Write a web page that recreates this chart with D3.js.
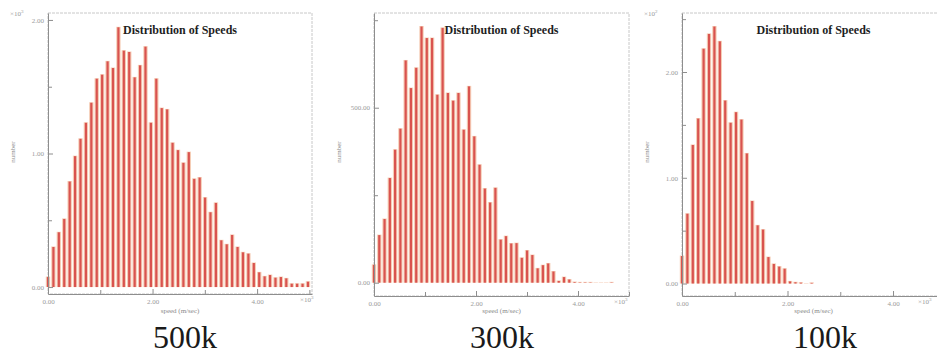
<!DOCTYPE html>
<html>
<head>
<meta charset="utf-8">
<script src="https://cdn.jsdelivr.net/npm/d3@7"></script>
<style>
  html, body { margin: 0; padding: 0; background: #fff; }
  svg { display: block; }
</style>
</head>
<body>
<svg id="chart" width="937" height="356"></svg>
<script>
// ---------------- DATA ----------------
const panelLabels = ["500k", "300k", "100k"];
const chartTitle = "Distribution of Speeds";
const xAxisTitle = "speed (m/sec)";
const yAxisTitle = "number";

// counts per speed bin (panel 1 in x10^3, panel 2 raw, panel 3 in x10^2)
const counts500k = [0.075, 0.30, 0.41, 0.51, 0.79, 0.98, 1.11, 1.23, 1.38, 1.56,
  1.59, 1.69, 1.64, 1.945, 1.77, 1.76, 1.57, 1.66, 1.80, 1.23,
  1.56, 1.34, 1.33, 1.08, 1.025, 0.93, 1.01, 0.81, 0.82, 0.67,
  0.56, 0.63, 0.35, 0.32, 0.39, 0.30, 0.26, 0.25, 0.18, 0.11,
  0.08, 0.09, 0.07, 0.075, 0.065, 0.025, 0.025, 0.025, 0.04];
const counts300k = [51, 136, 182, 299, 380, 440, 635, 556, 614, 732,
  699, 699, 537, 728, 542, 520, 542, 437, 561, 418,
  337, 269, 229, 271, 123, 133, 112, 113, 71, 92,
  79, 41, 50, 55, 32, 5, 16, 9, 2, 1,
  1, 1, 0, 0, 0, 1];
const counts100k = [0.26, 0.66, 1.31, 1.56, 2.22, 2.36, 2.43, 2.29, 1.73, 1.52,
  1.62, 1.55, 1.23, 0.78, 0.55, 0.51, 0.25, 0.185, 0.16, 0.14,
  0.02, 0.012, 0.008, 0, 0.006];
const binWidths = [0.1036, 0.1035, 0.1024];   // x10^3 m/sec

const xMajorTicks = [0, 2, 4];
const xMinorTicks = [1, 3, 5];
const yMajorTicks = [[0, 1, 2], [0, 500], [0, 1, 2]];
const yMinorTicks = [[0.5, 1.5], [250, 750], [0.5, 1.5, 2.5]];
const yMultipliers = ["3", null, "2"];
const xMultiplier = "3";

// ---------------- LAYOUT ----------------
const panels = [
  { counts: counts500k, left: 48,  right: 312, top: 13, bottom: 294, xMax: 5.05, yMin: -0.052, yMax: 2.052, multX: 300 },
  { counts: counts300k, left: 374, right: 629, top: 13, bottom: 296, xMax: 5.0,  yMin: -38,    yMax: 770.6, multX: 614 },
  { counts: counts100k, left: 682, right: 950, top: 13, bottom: 296, xMax: 5.08, yMin: -0.118, yMax: 2.558, multX: 918 }
];

const svg = d3.select("#chart");
const serif = "'Liberation Serif', 'Times New Roman', serif";
const tickColor = "#9a9a9a";

panels.forEach((p, k) => {
  const g = svg.append("g");
  const x = d3.scaleLinear().domain([0, p.xMax]).range([p.left, p.right]);
  const y = d3.scaleLinear().domain([p.yMin, p.yMax]).range([p.bottom, p.top]);
  const bw = binWidths[k];
  const cx = (p.left + p.right) / 2;
  const titleCx = k === 2 ? 813.5 : cx;

  // frame (top / right)
  g.append("rect")
    .attr("x", p.left).attr("y", p.top)
    .attr("width", p.right - p.left).attr("height", p.bottom - p.top)
    .attr("fill", "none").attr("stroke", "#c8c8c8").attr("stroke-width", 1)
    .attr("stroke-dasharray", "3,1");

  // bars: pale halo + red core
  const bars = p.counts.map((v, i) => ({ v: v, s: i * bw }));
  g.selectAll("rect.halo").data(bars).join("rect")
    .attr("class", "halo")
    .attr("x", d => x(d.s) - 2.2)
    .attr("width", 4.4)
    .attr("y", d => y(d.v) - 0.5)
    .attr("height", d => Math.max(0, y(0) - y(d.v) + 0.5))
    .attr("fill", "#f5cdb6");
  g.selectAll("rect.core").data(bars).join("rect")
    .attr("class", "core")
    .attr("x", d => x(d.s) - 1.1)
    .attr("width", 2.2)
    .attr("y", d => y(d.v))
    .attr("height", d => Math.max(0, y(0) - y(d.v)))
    .attr("fill", "#d9534f");

  // y axis
  const yAxis = d3.axisLeft(y).tickValues(yMajorTicks[k]).tickSize(-5).tickSizeOuter(0)
    .tickPadding(4).tickFormat(d3.format(".2f"));
  const ya = g.append("g").attr("transform", `translate(${p.left},0)`).call(yAxis);
  const yMinorAxis = d3.axisLeft(y).tickValues(yMinorTicks[k]).tickSize(-4).tickSizeOuter(0).tickFormat("");
  const ym = g.append("g").attr("transform", `translate(${p.left},0)`).call(yMinorAxis);
  ym.select(".domain").remove();

  // x axis
  const xAxis = d3.axisBottom(x).tickValues(xMajorTicks).tickSize(-5).tickSizeOuter(0)
    .tickPadding(5).tickFormat(d3.format(".2f"));
  const xa = g.append("g").attr("transform", `translate(0,${p.bottom})`).call(xAxis);
  const xMinorAxis = d3.axisBottom(x).tickValues(xMinorTicks).tickSize(-4).tickSizeOuter(0).tickFormat("");
  const xm = g.append("g").attr("transform", `translate(0,${p.bottom})`).call(xMinorAxis);
  xm.select(".domain").remove();

  [ya, ym, xa, xm].forEach(a => {
    a.selectAll("path.domain").attr("stroke", "#8e8e8e").attr("stroke-width", 1);
    a.selectAll(".tick line").attr("stroke", "#8e8e8e");
    a.selectAll(".tick text").attr("fill", tickColor)
      .style("font-family", serif).style("font-size", "7px");
  });

  // y multiplier (top-left)
  if (yMultipliers[k]) {
    const t = g.append("text").attr("x", p.left - 38).attr("y", 16)
      .attr("fill", tickColor).style("font-family", serif).style("font-size", "7px");
    t.append("tspan").text("×10");
    t.append("tspan").attr("dy", -3).style("font-size", "5px").text(yMultipliers[k]);
  }
  // x multiplier (bottom-right)
  {
    const t = g.append("text").attr("x", p.multX).attr("y", p.bottom + 8)
      .attr("fill", tickColor).style("font-family", serif).style("font-size", "7px");
    t.append("tspan").text("×10");
    t.append("tspan").attr("dy", -3).style("font-size", "5px").text(xMultiplier);
  }

  // title
  g.append("text").attr("x", titleCx).attr("y", 34).attr("text-anchor", "middle")
    .attr("fill", "#1e1e1e").style("font-family", serif).style("font-weight", "bold")
    .style("font-size", "12px").text(chartTitle);

  // axis titles
  g.append("text").attr("x", titleCx).attr("y", 313).attr("text-anchor", "middle")
    .attr("fill", "#8a8a8a").style("font-family", serif).style("font-size", "7px")
    .text(xAxisTitle);
  g.append("text")
    .attr("transform", `translate(${p.left - 33},${152}) rotate(-90)`)
    .attr("text-anchor", "middle")
    .attr("fill", "#8a8a8a").style("font-family", serif).style("font-size", "7px")
    .text(yAxisTitle);

  // panel label
  const labelCx = [185, 502, 825][k];
  g.append("text").attr("x", labelCx).attr("y", 348).attr("text-anchor", "middle")
    .attr("fill", "#1a1a1a").style("font-family", serif).style("font-size", "32px")
    .text(panelLabels[k]);
});
</script>
</body>
</html>
